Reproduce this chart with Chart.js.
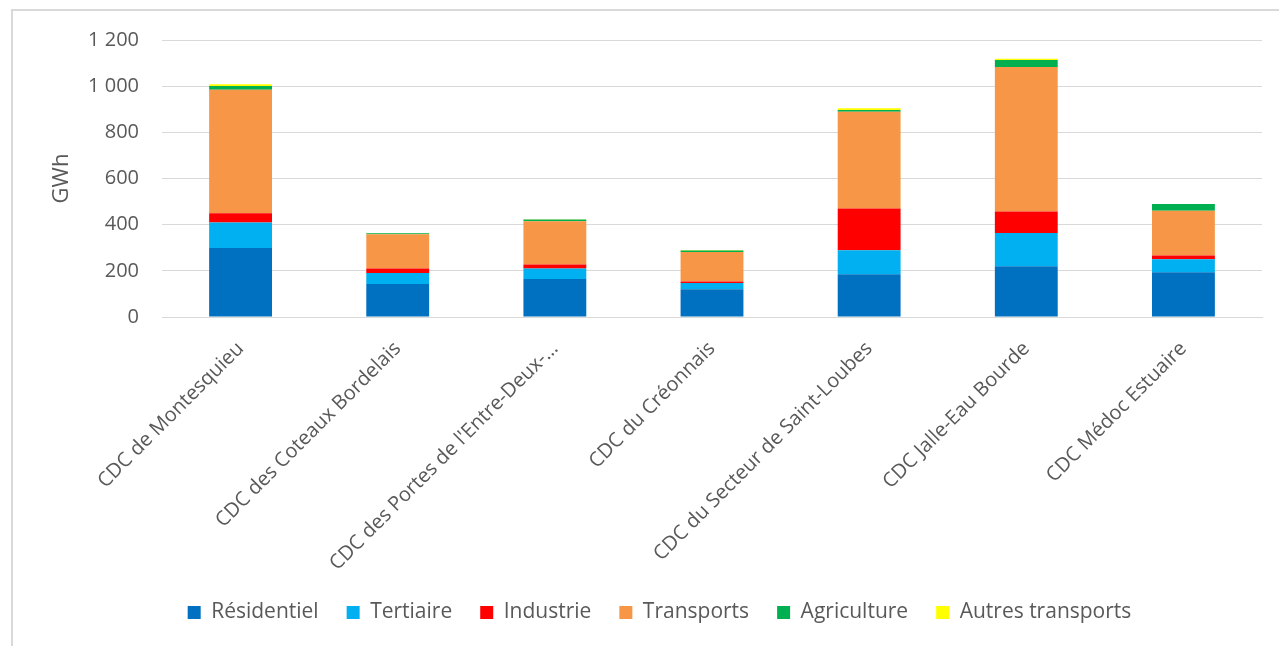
<!DOCTYPE html>
<html>
<head>
<meta charset="utf-8">
<script src="https://cdn.jsdelivr.net/npm/chart.js@4"></script>
<style>
  html, body { margin: 0; padding: 0; background: #fff; }
  #wrap { position: relative; width: 1279px; height: 646px; }
</style>
</head>
<body>
<div id="wrap"><canvas id="chart"></canvas></div>
<script>
const categories = [
    'CDC de Montesquieu',
    'CDC des Coteaux Bordelais',
    "CDC des Portes de l'Entre-Deux-…",
    'CDC du Créonnais',
    'CDC du Secteur de Saint-Loubes',
    'CDC Jalle-Eau Bourde',
    'CDC Médoc Estuaire'
];
const residentiel = [299, 143, 165, 120, 185, 220, 194];
const tertiaire = [110, 48, 45, 27, 104, 144, 56];
const industrie = [41, 19, 17, 7, 181, 93, 16];
const transports = [535, 149, 188, 128, 419, 626, 194];
const agriculture = [16, 4, 7, 6, 8, 30, 29];
const autresTransports = [7, 1, 1, 2, 7, 6, 1];
const yTicks = [0, 200, 400, 600, 800, 1000, 1200];

const textColor = '#595959';
const gridColor = '#d9d9d9';

// frame line around the chart (top + left visible)
const framePlugin = {
    id: 'frame',
    beforeDraw(chart) {
        const ctx = chart.ctx;
        ctx.save();
        ctx.strokeStyle = gridColor;
        ctx.lineWidth = 2;
        ctx.beginPath();
        ctx.moveTo(12, 646);
        ctx.lineTo(12, 10);
        ctx.lineTo(1279, 10);
        ctx.stroke();
        ctx.restore();
    }
};

function ds(label, data, color) {
    return { label: label, data: data, backgroundColor: color, borderWidth: 0 };
}

new Chart(document.getElementById('chart').getContext('2d'), {
    type: 'bar',
    data: {
        labels: categories,
        datasets: [
            ds('Résidentiel', residentiel, '#0070C0'),
            ds('Tertiaire', tertiaire, '#00B0F0'),
            ds('Industrie', industrie, '#FF0000'),
            ds('Transports', transports, '#F79646'),
            ds('Agriculture', agriculture, '#00B050'),
            ds('Autres transports', autresTransports, '#FFFF00')
        ]
    },
    options: {
        responsive: true,
        maintainAspectRatio: false,
        animation: false,
        layout: { padding: { left: 57, right: 17, top: 40, bottom: 13 } },
        datasets: { bar: { categoryPercentage: 1, barPercentage: 0.4 } },
        plugins: {
            legend: {
                position: 'bottom',
                labels: {
                    boxWidth: 13,
                    boxHeight: 13,
                    padding: 28,
                    color: textColor,
                    font: { family: 'Open Sans', size: 21 }
                }
            },
            tooltip: { enabled: false }
        },
        scales: {
            x: {
                stacked: true,
                grid: { display: false },
                border: { display: true, color: gridColor, width: 1 },
                ticks: {
                    color: textColor,
                    font: { family: 'Open Sans', size: 20 },
                    minRotation: 45,
                    maxRotation: 45,
                    autoSkip: false,
                    padding: 12
                },
                afterFit: (scale) => { scale.height = 257; }
            },
            y: {
                stacked: true,
                min: 0,
                max: 1200,
                afterBuildTicks: (scale) => { scale.ticks = yTicks.map(v => ({ value: v })); },
                grid: { color: gridColor, lineWidth: 1, drawTicks: false },
                border: { display: false },
                ticks: {
                    color: textColor,
                    font: { family: 'Open Sans', size: 20 },
                    padding: 23,
                    callback: (v) => String(v).replace(/\B(?=(\d{3})+(?!\d))/g, ' ')
                },
                title: {
                    display: true,
                    text: 'GWh',
                    color: textColor,
                    font: { family: 'Open Sans', size: 22 },
                    padding: { top: -8, bottom: 0 }
                },
                afterFit: (scale) => { scale.width = 105; }
            }
        }
    },
    plugins: [framePlugin]
});
</script>
</body>
</html>
